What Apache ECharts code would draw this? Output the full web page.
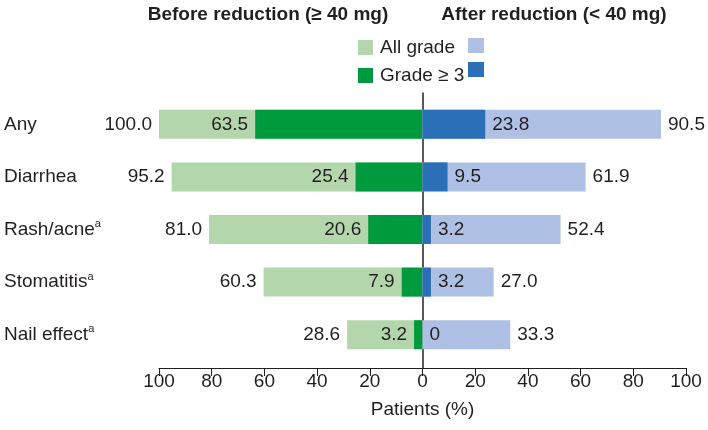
<!DOCTYPE html>
<html>
<head>
<meta charset="utf-8">
<script src="https://cdn.jsdelivr.net/npm/echarts@6/dist/echarts.min.js"></script>
<style>
html,body{margin:0;padding:0;background:#fff;}
#chart{width:708px;height:430px;}
</style>
</head>
<body>
<div id="chart"></div>
<script>
// ---- data ----
const categories = ['Any', 'Diarrhea', 'Rash/acne', 'Stomatitis', 'Nail effect'];
const superscripts = ['', '', 'a', 'a', 'a'];
const beforeAllGrade = [100.0, 95.2, 81.0, 60.3, 28.6];
const beforeGrade3 = [63.5, 25.4, 20.6, 7.9, 3.2];
const afterAllGrade = [90.5, 61.9, 52.4, 27.0, 33.3];
const afterGrade3 = [23.8, 9.5, 3.2, 3.2, 0];

const FONT = 'Liberation Sans, Arial, sans-serif';
const TXT = '#231f20';
const FS = 19;
const C_LG = '#b3d6ad', C_DG = '#009a3e', C_LB = '#aec0e3', C_DB = '#2b70b6';

function fmt(v) { v = Math.abs(v); return v === 0 ? '0' : v.toFixed(1); }
const neg = a => a.map(v => -v);

const labelBase = { show: true, fontSize: FS, fontFamily: FONT, color: TXT, distance: 7,
  formatter: p => fmt(p.value) };

const chart = echarts.init(document.getElementById('chart'));
chart.setOption({
  animation: false,
  textStyle: { fontFamily: FONT },
  title: [
    { text: 'Before reduction (≥ 40 mg)', left: 263, top: 0, textAlign: 'center',
      textStyle: { fontSize: 19, fontWeight: 'bold', color: TXT, fontFamily: FONT } },
    { text: 'After reduction (< 40 mg)', left: 549, top: 0, textAlign: 'center',
      textStyle: { fontSize: 19, fontWeight: 'bold', color: TXT, fontFamily: FONT } }
  ],
  legend: [
    { data: ['All grade', 'Grade ≥ 3'], orient: 'vertical', left: 358, top: 38, padding: 0,
      itemWidth: 15, itemHeight: 15, itemGap: 9, icon: 'rect', selectedMode: false,
      textStyle: { fontSize: FS, color: TXT, fontFamily: FONT, padding: [0, 0, 0, 2] } },
    { data: ['All grade after', 'Grade ≥ 3 after'], orient: 'vertical', left: 468, top: 38, padding: 0,
      itemWidth: 16, itemHeight: 15, itemGap: 9, icon: 'rect', selectedMode: false,
      formatter: () => '', textStyle: { fontSize: FS } }
  ],
  grid: [
    { left: 159, right: 22, top: 98, height: 263, containLabel: false },
    { left: 159, right: 22, top: 93, bottom: 62, containLabel: false }
  ],
  xAxis: [
    { gridIndex: 0, type: 'value', min: -100, max: 100, show: false },
    { gridIndex: 1, type: 'value', min: -100, max: 100, interval: 20,
      axisLine: { show: true, onZero: false, lineStyle: { color: TXT, width: 1 } },
      axisTick: { show: true, length: 8, inside: false, lineStyle: { color: TXT } },
      axisLabel: { fontSize: FS, color: TXT, fontFamily: FONT, margin: 4,
        formatter: v => String(Math.abs(v)) },
      splitLine: { show: false },
      name: 'Patients (%)', nameLocation: 'middle', nameGap: 32,
      nameTextStyle: { fontSize: FS, color: TXT, fontFamily: FONT } }
  ],
  yAxis: [
    { gridIndex: 0, type: 'category', data: categories, inverse: true,
      axisLine: { show: false }, axisTick: { show: false }, splitLine: { show: false },
      axisLabel: { align: 'left', margin: 155, color: TXT,
        formatter: (v, i) => superscripts[i] ? '{n|' + v + '}{s|' + superscripts[i] + '}' : '{n|' + v + '}',
        rich: {
          n: { fontSize: FS, color: TXT, fontFamily: FONT, lineHeight: 22 },
          s: { fontSize: 11, color: TXT, fontFamily: FONT, verticalAlign: 'top', lineHeight: 22, padding: [0, 0, 8, 0] }
        } } },
    { gridIndex: 1, type: 'value', min: 0, max: 1,
      axisLine: { show: true, onZero: true, lineStyle: { color: TXT, width: 1.5 } },
      axisTick: { show: false }, axisLabel: { show: false }, splitLine: { show: false } }
  ],
  series: [
    { name: 'All grade', type: 'bar', xAxisIndex: 0, yAxisIndex: 0, data: neg(beforeAllGrade),
      barWidth: 29, barGap: '-100%', itemStyle: { color: C_LG },
      label: Object.assign({}, labelBase, { position: 'left' }) },
    { name: 'Grade ≥ 3', type: 'bar', xAxisIndex: 0, yAxisIndex: 0, data: neg(beforeGrade3),
      barWidth: 29, barGap: '-100%', itemStyle: { color: C_DG },
      label: Object.assign({}, labelBase, { position: 'left' }) },
    { name: 'All grade after', type: 'bar', xAxisIndex: 0, yAxisIndex: 0, data: afterAllGrade,
      barWidth: 29, barGap: '-100%', itemStyle: { color: C_LB },
      label: Object.assign({}, labelBase, { position: 'right' }) },
    { name: 'Grade ≥ 3 after', type: 'bar', xAxisIndex: 0, yAxisIndex: 0, data: afterGrade3,
      barWidth: 29, barGap: '-100%', itemStyle: { color: C_DB },
      label: Object.assign({}, labelBase, { position: 'right' }) }
  ]
});
</script>
</body>
</html>
